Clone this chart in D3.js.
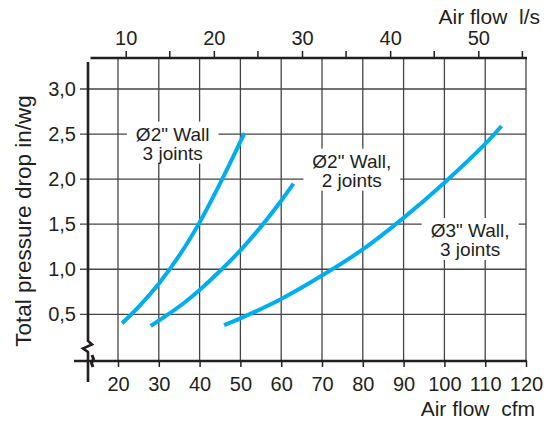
<!DOCTYPE html>
<html>
<head>
<meta charset="utf-8">
<script src="https://cdn.jsdelivr.net/npm/d3@7"></script>
<style>
  body { margin: 0; background: #fff; }
  svg { display: block; font-family: "Liberation Sans", Arial, sans-serif; }
</style>
</head>
<body>
<div id="chart"></div>
<script>
// tick values
const cfmTicks = [20, 30, 40, 50, 60, 70, 80, 90, 100, 110, 120]
const lsTicks = [10, 20, 30, 40, 50]
const lsMinorTicks = [15, 25, 35, 45, 55]
const pressureTicks = [0.5, 1.0, 1.5, 2.0, 2.5, 3.0]

// curves: [cfm, in/wg]
const wall2in3joints = [[21, 0.40], [25, 0.58], [30, 0.84], [35, 1.15], [40, 1.52], [45, 1.95], [51, 2.51]]
const wall2in2joints = [[28, 0.37], [32, 0.49], [36, 0.62], [40, 0.77], [45, 0.98], [50, 1.21], [55, 1.47], [60, 1.76], [63, 1.95]]
const wall3in3joints = [[46, 0.38], [50, 0.455], [60, 0.67], [70, 0.93], [80, 1.22], [90, 1.57], [100, 1.96], [110, 2.39], [114, 2.59]]

const curves = [wall2in3joints, wall2in2joints, wall3in3joints]

// curve labels, anchored in data units
const curveLabels = [
  {lines: ["Ø2\" Wall", "3 joints"], cfm: 33.4, p: 2.5},
  {lines: ["Ø2\" Wall,", "2 joints"], cfm: 77.3, p: 2.2},
  {lines: ["Ø3\" Wall,", "3 joints"], cfm: 106.3, p: 1.43}
]

const width = 559, height = 421
const textColor = "#231f20"
const gridColor = "#454545"
const lineColor = "#00aeef"
const fontFamily = "Liberation Sans, Arial, sans-serif"

const svg = d3.select("#chart").append("svg")
  .attr("width", width)
  .attr("height", height)

const x = d3.scaleLinear().domain([20, 120]).range([118, 526])
const xTop = d3.scaleLinear().domain([10, 50]).range([125.7, 478.3])
const y = d3.scaleLinear().domain([0.5, 3.0]).range([314.3, 89])

const plotTop = 58, plotBottom = 361, plotLeft = 88, plotRight = x(120)

const fmtComma = d => d3.format(".1f")(d).replace(".", ",")

// grid
const grid = svg.append("g")
grid.selectAll(".vgrid")
  .data(cfmTicks)
  .join("line")
    .attr("class", "vgrid")
    .attr("x1", d => x(d)).attr("x2", d => x(d))
    .attr("y1", plotTop).attr("y2", plotBottom)
    .attr("stroke", gridColor)
    .attr("stroke-width", 1.3)

grid.selectAll(".hgrid")
  .data(pressureTicks)
  .join("line")
    .attr("class", "hgrid")
    .attr("x1", plotLeft - 8).attr("x2", plotRight)
    .attr("y1", d => y(d)).attr("y2", d => y(d))
    .attr("stroke", gridColor)
    .attr("stroke-width", 1.3)

// label boxes sit above the grid, below the curves
const labelLayer = svg.append("g")
  .attr("font-size", 19)
  .attr("fill", textColor)
  .attr("text-anchor", "middle")

curveLabels.forEach(l => {
  const g = labelLayer.append("g")
  const text = g.append("text")
    .attr("x", x(l.cfm))
    .attr("y", y(l.p) + 6.5)
  text.selectAll("tspan")
    .data(l.lines)
    .join("tspan")
      .attr("x", x(l.cfm))
      .attr("dy", (d, i) => i == 0 ? 0 : 19)
      .text(d => d)
  const bb = text.node().getBBox()
  g.insert("rect", "text")
    .attr("x", bb.x - 9)
    .attr("y", bb.y - 2)
    .attr("width", bb.width + 18)
    .attr("height", bb.height + 2)
    .attr("fill", "#fff")
})

// curves
const line = d3.line()
  .x(d => x(d[0]))
  .y(d => y(d[1]))
  .curve(d3.curveCatmullRom.alpha(0.5))

svg.append("g").selectAll("path")
  .data(curves)
  .join("path")
    .attr("d", line)
    .attr("fill", "none")
    .attr("stroke", lineColor)
    .attr("stroke-width", 4)

// bottom axis
const bottomAxis = svg.append("g")
  .attr("transform", `translate(0,${plotBottom})`)
  .call(d3.axisBottom(x).tickValues(cfmTicks).tickSize(6).tickPadding(9.5))
bottomAxis.select(".domain").remove()
bottomAxis.selectAll(".tick line").attr("stroke", textColor).attr("stroke-width", 1.5)
bottomAxis.selectAll(".tick text")
  .attr("fill", textColor)
  .attr("font-size", 20)
  .attr("font-family", fontFamily)

// top axis (l/s)
const topAxis = svg.append("g")
  .attr("transform", `translate(0,${plotTop})`)
  .call(d3.axisTop(xTop).tickValues(lsTicks).tickSize(7).tickPadding(6))
topAxis.select(".domain").remove()
topAxis.selectAll(".tick line").attr("stroke", textColor).attr("stroke-width", 1.5)
topAxis.selectAll(".tick text")
  .attr("fill", textColor)
  .attr("font-size", 20)
  .attr("font-family", fontFamily)
svg.append("g").selectAll("line")
  .data(lsMinorTicks)
  .join("line")
    .attr("x1", d => xTop(d)).attr("x2", d => xTop(d))
    .attr("y1", plotTop - 7).attr("y2", plotTop)
    .attr("stroke", textColor)
    .attr("stroke-width", 1.5)

// left axis labels (tick marks are the grid lines running out past the axis)
const leftAxis = svg.append("g")
  .attr("transform", `translate(${plotLeft},0)`)
  .call(d3.axisLeft(y).tickValues(pressureTicks).tickFormat(fmtComma).tickSize(8).tickPadding(4))
leftAxis.select(".domain").remove()
leftAxis.selectAll(".tick line").remove()
leftAxis.selectAll(".tick text")
  .attr("fill", textColor)
  .attr("font-size", 20)
  .attr("font-family", fontFamily)

// axis lines
const axisLines = svg.append("g")
  .attr("stroke", textColor)
  .attr("stroke-width", 2.6)
  .attr("fill", "none")
axisLines.append("line")
  .attr("x1", 90.5).attr("x2", plotRight + 1)
  .attr("y1", plotTop).attr("y2", plotTop)
axisLines.append("line")
  .attr("x1", 74).attr("x2", plotRight + 1)
  .attr("y1", plotBottom).attr("y2", plotBottom)
// y axis with break
axisLines.append("path")
  .attr("d", `M${plotLeft},62 V341 L${plotLeft + 4},344.5 L${plotLeft - 5},348.5 L${plotLeft},352 V382`)
  .attr("stroke-linejoin", "miter")
// break on the x axis
axisLines.append("path")
  .attr("d", `M92,355 L93.5,359 L91.5,363 L93,367`)
  .attr("stroke-width", 3)

// titles
svg.append("text")
  .attr("x", 540).attr("y", 24)
  .attr("text-anchor", "end")
  .attr("font-size", 21)
  .attr("fill", textColor)
  .attr("xml:space", "preserve")
  .text("Air flow  l/s")

svg.append("text")
  .attr("x", 535).attr("y", 415.5)
  .attr("text-anchor", "end")
  .attr("font-size", 21)
  .attr("fill", textColor)
  .attr("xml:space", "preserve")
  .text("Air flow  cfm")

svg.append("text")
  .attr("transform", "translate(31,221) rotate(-90)")
  .attr("text-anchor", "middle")
  .attr("font-size", 22.5)
  .attr("fill", textColor)
  .text("Total pressure drop in/wg")
</script>
</body>
</html>
